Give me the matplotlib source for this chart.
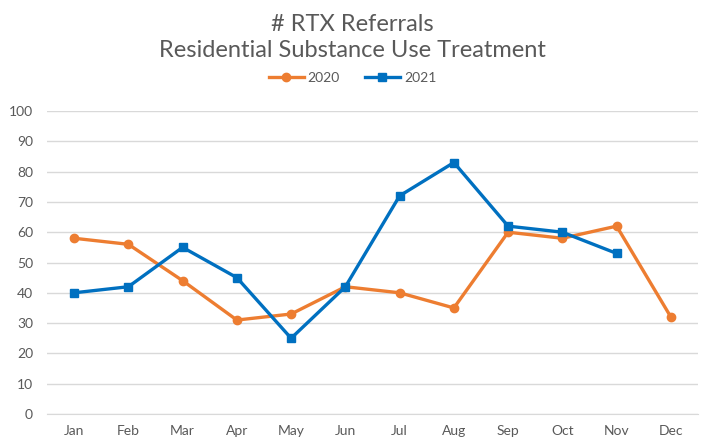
import matplotlib
matplotlib.use('Agg')
import matplotlib.pyplot as plt

months = ['Jan', 'Feb', 'Mar', 'Apr', 'May', 'Jun', 'Jul', 'Aug', 'Sep', 'Oct', 'Nov', 'Dec']
refs_2020 = [58, 56, 44, 31, 33, 42, 40, 35, 60, 58, 62, 32]
refs_2021 = [40, 42, 55, 45, 25, 42, 72, 83, 62, 60, 53]

plt.rcParams['font.family'] = ['Lato', 'DejaVu Sans']
grey = '#595959'

fig = plt.figure(figsize=(7.05, 4.42), dpi=100)
ax = fig.add_axes([47/705, 28/442, 651/705, 303/442])

x20 = list(range(len(refs_2020)))
x21 = list(range(len(refs_2021)))
ax.plot(x20, refs_2020, color='#ED7D31', lw=2.4, marker='o', ms=6, label='2020', zorder=3)
ax.plot(x21, refs_2021, color='#0070C0', lw=2.4, marker='s', ms=6, label='2021', zorder=4)

ax.set_xlim(-0.5, 11.5)
ax.set_ylim(0, 100)
ax.set_yticks(range(0, 101, 10))
ax.set_xticks(range(12))
ax.set_xticklabels(months)
ax.yaxis.grid(True, color='#D9D9D9', lw=1)
ax.set_axisbelow(True)
for s in ax.spines.values():
    s.set_visible(False)
ax.spines['bottom'].set_visible(True)
ax.spines['bottom'].set_color('#D9D9D9')
ax.tick_params(length=0, colors=grey, labelsize=10)
ax.tick_params(axis='x', pad=8)
ax.tick_params(axis='y', pad=10)

fig.text(0.5, 0.945, '# RTX Referrals', ha='center', va='center', fontsize=17, color=grey)
fig.text(0.5, 0.885, 'Residential Substance Use Treatment', ha='center', va='center', fontsize=17, color=grey)
fig.legend(loc='center', bbox_to_anchor=(0.5, 0.823), ncol=2, frameon=False,
           fontsize=10, labelcolor=grey, handlelength=2.5, columnspacing=1.8, handletextpad=0.3)

fig.savefig('out.png', dpi=100)
